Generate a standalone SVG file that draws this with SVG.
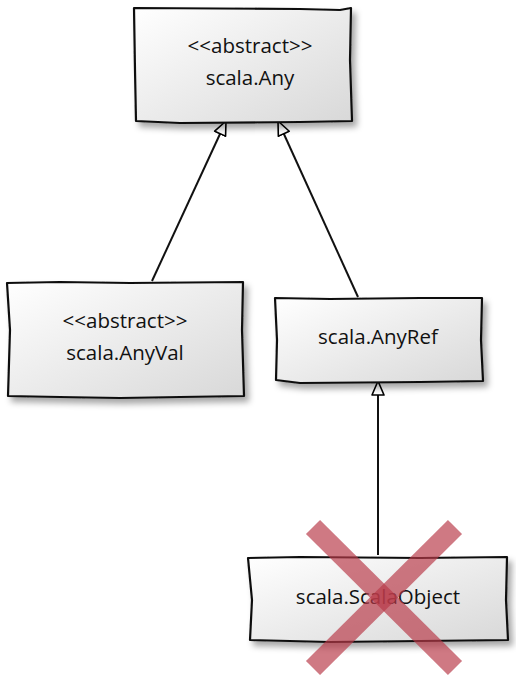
<svg xmlns="http://www.w3.org/2000/svg" width="516" height="677" viewBox="0 0 516 677">
<defs>
<linearGradient id="g" x1="0" y1="0" x2="1" y2="1">
<stop offset="0" stop-color="#ffffff"/>
<stop offset="1" stop-color="#d8d8d8"/>
</linearGradient>
<filter id="sh" x="-10%" y="-10%" width="130%" height="140%">
<feDropShadow dx="4" dy="5" stdDeviation="3" flood-color="#000" flood-opacity="0.35"/>
</filter>
<marker id="tri" markerWidth="18" markerHeight="16" refX="15" refY="8" orient="auto" markerUnits="userSpaceOnUse">
<path d="M1,2 L15,8 L1,14 Z" fill="#fff" stroke="#000" stroke-width="1.6" stroke-linejoin="round"/>
</marker>
</defs>
<style>
.box{fill:url(#g);stroke:#111;stroke-width:2.2;stroke-linejoin:round;filter:url(#sh)}
.t{font-family:"Open Sans","DejaVu Sans",sans-serif;font-size:20.5px;fill:#111;text-anchor:middle}
.c{fill:none;stroke:#111;stroke-width:2}
.x{stroke:#b83a48;stroke-opacity:0.68;stroke-width:20;stroke-linecap:butt}
</style>
<g id="connectors">
<line class="c" x1="152" y1="281" x2="226" y2="121" marker-end="url(#tri)"/>
<line class="c" x1="358" y1="297" x2="278" y2="121" marker-end="url(#tri)"/>
<line class="c" x1="378" y1="555" x2="378" y2="381" marker-end="url(#tri)"/>
</g>
<g id="any">
<path class="box" d="M134,8 L300,9 L340,10 L351,8 L350,60 L352,121 L300,122 L180,123 L136,121 L135,70 Z"/>
<text class="t" x="250" y="53">&lt;&lt;abstract&gt;&gt;</text>
<text class="t" x="250" y="85">scala.Any</text>
</g>
<g id="anyval">
<path class="box" d="M7,283 L60,282 L130,283 L243,282 L242,330 L244,396 L180,397 L120,398 L60,397 L8,396 L10,330 Z"/>
<text class="t" x="125" y="328">&lt;&lt;abstract&gt;&gt;</text>
<text class="t" x="125" y="360">scala.AnyVal</text>
</g>
<g id="anyref">
<path class="box" d="M275,298 L330,299 L420,298 L482,298 L481,340 L483,381 L420,382 L300,383 L276,380 L277,340 Z"/>
<text class="t" x="378" y="344">scala.AnyRef</text>
</g>
<g id="scalaobject">
<path class="box" d="M248,558 L300,557 L420,558 L507,557 L506,600 L508,640 L420,641 L330,642 L250,640 L252,600 Z"/>
<text class="t" x="378" y="604">scala.ScalaObject</text>
</g>
<g id="cross">
<line class="x" x1="313" y1="527" x2="455" y2="668"/>
<line class="x" x1="455" y1="527" x2="313" y2="668"/>
</g>
</svg>
